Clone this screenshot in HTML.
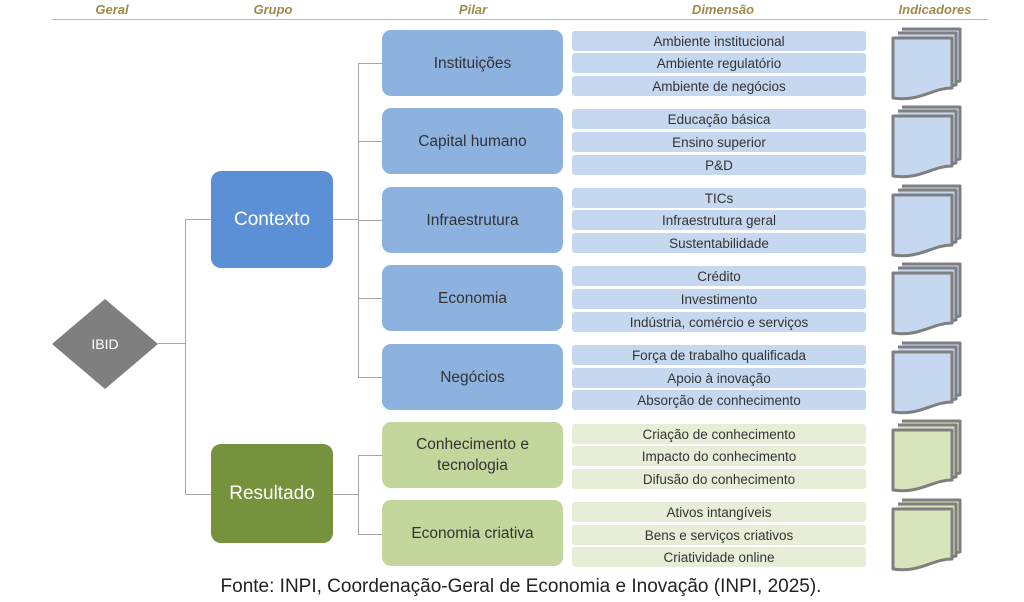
<!DOCTYPE html><html><head><meta charset="utf-8"><style>
body{margin:0;width:1024px;height:602px;background:#fff;position:relative;font-family:"Liberation Sans",sans-serif;overflow:hidden}
.h{position:absolute;top:2px;font-style:italic;font-weight:bold;color:#a08a4a;font-size:13px;transform:translateX(-50%)}
.b{position:absolute;display:flex;align-items:center;justify-content:center;text-align:center;color:#333}
.p{left:382px;width:181px;height:66px;border-radius:9px;font-size:15.5px;line-height:21px}
.d{left:572px;width:294px;height:20px;border-radius:3px;font-size:13.5px}
.bl{background:#8eb2e0}.dl{background:#c6d8f0}.gr{background:#c3d69b}.dg{background:#e6eed8}
.g{left:211px;width:122px;border-radius:10px;color:#fff;font-size:19px}
.l{position:absolute;background:#a6a6a6}
svg.i{position:absolute;left:890px}
</style></head><body>
<div class="h" style="left:112px">Geral</div><div class="h" style="left:273px">Grupo</div><div class="h" style="left:473px">Pilar</div><div class="h" style="left:723px">Dimensão</div><div class="h" style="left:935px">Indicadores</div>
<div style="position:absolute;left:52px;top:19px;width:936px;height:1px;background:#c9bc8e"></div>
<div class="l" style="left:158px;top:343px;width:27px;height:1px"></div>
<div class="l" style="left:185px;top:219px;width:1px;height:276px"></div>
<div class="l" style="left:185px;top:219px;width:26px;height:1px"></div>
<div class="l" style="left:185px;top:494px;width:26px;height:1px"></div>
<div class="l" style="left:333px;top:219px;width:25px;height:1px"></div>
<div class="l" style="left:358px;top:63px;width:1px;height:314px"></div>
<div class="l" style="left:333px;top:494px;width:25px;height:1px"></div>
<div class="l" style="left:358px;top:455px;width:1px;height:79px"></div>
<div class="l" style="left:358px;top:63px;width:24px;height:1px"></div>
<div class="l" style="left:358px;top:141px;width:24px;height:1px"></div>
<div class="l" style="left:358px;top:220px;width:24px;height:1px"></div>
<div class="l" style="left:358px;top:298px;width:24px;height:1px"></div>
<div class="l" style="left:358px;top:377px;width:24px;height:1px"></div>
<div class="l" style="left:358px;top:455px;width:24px;height:1px"></div>
<div class="l" style="left:358px;top:534px;width:24px;height:1px"></div>
<svg style="position:absolute;left:52px;top:299px" width="107" height="91"><polygon points="53,0 106,45 53,90 0,45" fill="#7f7f7f"/><text x="53" y="50" text-anchor="middle" fill="#fff" font-size="14" font-family="Liberation Sans">IBID</text></svg>
<div class="b g" style="top:171px;height:97px;background:#5b8fd6">Contexto</div>
<div class="b g" style="top:444px;height:99px;background:#76923c">Resultado</div>
<div class="b p bl" style="top:30px">Instituições</div>
<div class="b p bl" style="top:108px">Capital humano</div>
<div class="b p bl" style="top:187px">Infraestrutura</div>
<div class="b p bl" style="top:265px">Economia</div>
<div class="b p bl" style="top:344px">Negócios</div>
<div class="b p gr" style="top:422px">Conhecimento e<br>tecnologia</div>
<div class="b p gr" style="top:500px">Economia criativa</div>
<div class="b d dl" style="top:31px">Ambiente institucional</div><div class="b d dl" style="top:53px">Ambiente regulatório</div><div class="b d dl" style="top:76px">Ambiente de negócios</div>
<div class="b d dl" style="top:109px">Educação básica</div><div class="b d dl" style="top:132px">Ensino superior</div><div class="b d dl" style="top:155px">P&amp;D</div>
<div class="b d dl" style="top:188px">TICs</div><div class="b d dl" style="top:210px">Infraestrutura geral</div><div class="b d dl" style="top:233px">Sustentabilidade</div>
<div class="b d dl" style="top:266px">Crédito</div><div class="b d dl" style="top:289px">Investimento</div><div class="b d dl" style="top:312px">Indústria, comércio e serviços</div>
<div class="b d dl" style="top:345px">Força de trabalho qualificada</div><div class="b d dl" style="top:368px">Apoio à inovação</div><div class="b d dl" style="top:390px">Absorção de conhecimento</div>
<div class="b d dg" style="top:424px">Criação de conhecimento</div><div class="b d dg" style="top:446px">Impacto do conhecimento</div><div class="b d dg" style="top:469px">Difusão do conhecimento</div>
<div class="b d dg" style="top:502px">Ativos intangíveis</div><div class="b d dg" style="top:525px">Bens e serviços criativos</div><div class="b d dg" style="top:547px">Criatividade online</div>
<svg width="0" height="0" style="position:absolute"><defs>
<g id="docb"><path d="M12,3 H70 V55 C50,58 40,62 20,62" fill="#c6d8f0" stroke="#7f7f7f" stroke-width="3" stroke-linejoin="round"/><path d="M8,7 H66 V59 C46,62 36,66 16,66" fill="#c6d8f0" stroke="#7f7f7f" stroke-width="3" stroke-linejoin="round"/><path d="M3,12 H62 V62 C42,62 30,76 3,72 Z" fill="#c6d8f0" stroke="#7f7f7f" stroke-width="3" stroke-linejoin="round"/></g>
<g id="docg"><path d="M12,3 H70 V55 C50,58 40,62 20,62" fill="#d8e4bc" stroke="#7f7f7f" stroke-width="3" stroke-linejoin="round"/><path d="M8,7 H66 V59 C46,62 36,66 16,66" fill="#d8e4bc" stroke="#7f7f7f" stroke-width="3" stroke-linejoin="round"/><path d="M3,12 H62 V62 C42,62 30,76 3,72 Z" fill="#d8e4bc" stroke="#7f7f7f" stroke-width="3" stroke-linejoin="round"/></g>
</defs></svg>
<svg class="i" style="top:26px" width="75" height="78"><use href="#docb"/></svg>
<svg class="i" style="top:104px" width="75" height="78"><use href="#docb"/></svg>
<svg class="i" style="top:183px" width="75" height="78"><use href="#docb"/></svg>
<svg class="i" style="top:261px" width="75" height="78"><use href="#docb"/></svg>
<svg class="i" style="top:340px" width="75" height="78"><use href="#docb"/></svg>
<svg class="i" style="top:418px" width="75" height="78"><use href="#docg"/></svg>
<svg class="i" style="top:497px" width="75" height="78"><use href="#docg"/></svg>
<div style="position:absolute;left:0;width:1042px;top:576px;text-align:center;font-size:19px;color:#222">Fonte: INPI, Coordenação-Geral de Economia e Inovação (INPI, 2025).</div>
</body></html>
